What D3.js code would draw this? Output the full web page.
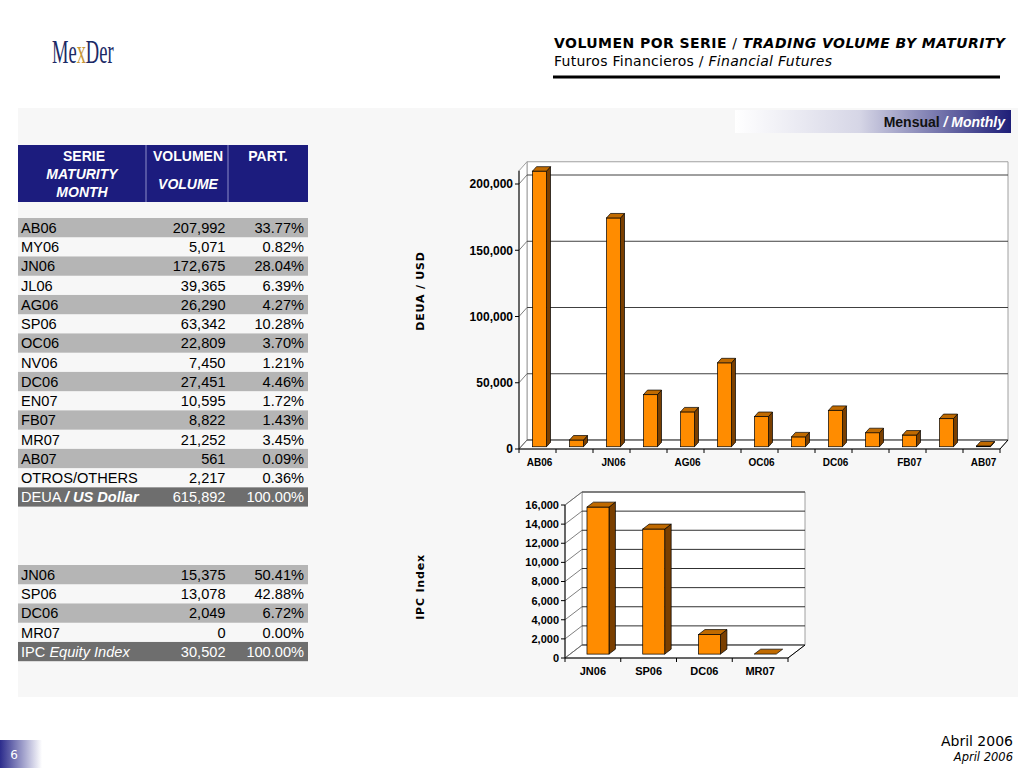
<!DOCTYPE html>
<html><head><meta charset="utf-8">
<script src="https://cdn.jsdelivr.net/npm/d3@7"></script>
<style>body{margin:0;background:#fff;} svg{display:block}</style>
</head><body><svg id="c" width="1024" height="768"></svg>
<script>
// ---------- DATA ----------
const dollarSeries = ["AB06","MY06","JN06","JL06","AG06","SP06","OC06","NV06","DC06","EN07","FB07","MR07","AB07"];
const dollarVolume = [207992,5071,172675,39365,26290,63342,22809,7450,27451,10595,8822,21252,561];
const dollarShare  = ["33.77%","0.82%","28.04%","6.39%","4.27%","10.28%","3.70%","1.21%","4.46%","1.72%","1.43%","3.45%","0.09%"];
const otherLabel = "OTROS/OTHERS", otherVolume = 2217, otherShare = "0.36%";
const dollarTotal = 615892, dollarTotalShare = "100.00%";
const ipcSeries = ["JN06","SP06","DC06","MR07"];
const ipcVolume = [15375,13078,2049,0];
const ipcShare  = ["50.41%","42.88%","6.72%","0.00%"];
const ipcTotal = 30502, ipcTotalShare = "100.00%";
const dollarTicks = [0,50000,100000,150000,200000];
const ipcTicks = [0,2000,4000,6000,8000,10000,12000,14000,16000];

// ---------- SETUP ----------
const svg = d3.select("#c");
const fmt = d3.format(",");
const SANS = "'Liberation Sans', Arial, sans-serif";
const VERD = "'DejaVu Sans', Verdana, sans-serif";
const defs = svg.append("defs");
const g1 = defs.append("linearGradient").attr("id","band").attr("x1","0").attr("x2","1");
g1.append("stop").attr("offset","0").attr("stop-color","#ffffff");
g1.append("stop").attr("offset","0.45").attr("stop-color","#d6d6e6");
g1.append("stop").attr("offset","1").attr("stop-color","#1e1e78");
const g2 = defs.append("linearGradient").attr("id","pg").attr("x1","0").attr("x2","1");
g2.append("stop").attr("offset","0").attr("stop-color","#2c2c8c");
g2.append("stop").attr("offset","1").attr("stop-color","#ffffff");

// panel
svg.append("rect").attr("x",18).attr("y",108).attr("width",1000).attr("height",589).attr("fill","#f7f7f7");

// logo
const logo = svg.append("text").attr("transform","translate(52,63) scale(0.56,1)").attr("font-family","'Liberation Serif', serif")
  .attr("font-size",33).attr("fill","#1b2a66");
logo.append("tspan").text("Me");
logo.append("tspan").attr("fill","#c8983a").text("x");
logo.append("tspan").text("Der");

// title
const t1 = svg.append("text").attr("x",554).attr("y",48).attr("font-family",VERD).attr("font-size",14).attr("font-weight","bold").attr("fill","#000")
  .attr("textLength",451).attr("lengthAdjust","spacing");
t1.append("tspan").text("VOLUMEN POR SERIE ");
t1.append("tspan").attr("font-weight","normal").text("/ ");
t1.append("tspan").attr("font-style","italic").text("TRADING VOLUME BY MATURITY");
const t2 = svg.append("text").attr("x",554).attr("y",66).attr("font-family",VERD).attr("font-size",14).attr("fill","#000")
  .attr("textLength",278).attr("lengthAdjust","spacing");
t2.append("tspan").text("Futuros Financieros / ");
t2.append("tspan").attr("font-style","italic").text("Financial Futures");
svg.append("rect").attr("x",553).attr("y",75.5).attr("width",447).attr("height",3).attr("fill","#000");

// monthly band
svg.append("rect").attr("x",735).attr("y",110).attr("width",276).attr("height",23).attr("fill","url(#band)");
const mb = svg.append("text").attr("x",1005).attr("y",127).attr("text-anchor","end").attr("font-family",SANS).attr("font-size",14).attr("font-weight","bold");
mb.append("tspan").attr("fill","#111").text("Mensual ");
mb.append("tspan").attr("fill","#fff").attr("font-style","italic").text("/ Monthly");

// ---------- TABLES ----------
const TX0 = 18, TX1 = 308, C1 = 146, C2 = 228, RH = 19.24;
svg.append("rect").attr("x",TX0).attr("y",145).attr("width",TX1-TX0).attr("height",57).attr("fill","#1c1c7e");
[C1,C2].forEach(x=>svg.append("line").attr("x1",x).attr("x2",x).attr("y1",145).attr("y2",202).attr("stroke","#8c8cc8").attr("stroke-width",1));
const hdr = [
  {t:"SERIE",x:84,y:161,i:false},{t:"MATURITY",x:82,y:179,i:true},{t:"MONTH",x:82,y:197,i:true},
  {t:"VOLUMEN",x:188,y:161,i:false},{t:"VOLUME",x:188,y:189,i:true},{t:"PART.",x:268,y:161,i:false}];
svg.selectAll("text.hdr").data(hdr).enter().append("text").attr("class","hdr")
  .attr("x",d=>d.x).attr("y",d=>d.y).attr("text-anchor","middle").attr("font-family",SANS)
  .attr("font-size",14).attr("font-weight","bold").attr("font-style",d=>d.i?"italic":"normal").attr("fill","#fff").text(d=>d.t);

function table(rows, top, totalParts, totalVol, totalShare){
  const g = svg.append("g");
  rows.forEach((r,i)=>{
    const y = top + i*RH;
    if(i%2===0) g.append("rect").attr("x",TX0).attr("y",y).attr("width",TX1-TX0).attr("height",RH).attr("fill","#b5b5b5");
    const by = y + RH/2 + 5.3;
    g.append("text").attr("x",21).attr("y",by).attr("font-family",SANS).attr("font-size",14.6).attr("fill","#000").text(r[0]);
    g.append("text").attr("x",225.5).attr("y",by).attr("text-anchor","end").attr("font-family",SANS).attr("font-size",14.6).attr("fill","#000").text(fmt(r[1]));
    g.append("text").attr("x",304).attr("y",by).attr("text-anchor","end").attr("font-family",SANS).attr("font-size",14.6).attr("fill","#000").text(r[2]);
  });
  const y = top + rows.length*RH;
  g.append("rect").attr("x",TX0).attr("y",y).attr("width",TX1-TX0).attr("height",RH).attr("fill","#6e6e6e");
  const by = y + RH/2 + 5.3;
  const lt = g.append("text").attr("x",21).attr("y",by).attr("font-family",SANS).attr("font-size",14.6).attr("fill","#fff");
  totalParts.forEach(p=>lt.append("tspan").attr("font-style",p.i?"italic":"normal").attr("font-weight",p.b?"bold":"normal").text(p.t));
  g.append("text").attr("x",225.5).attr("y",by).attr("text-anchor","end").attr("font-family",SANS).attr("font-size",14.6).attr("fill","#fff").text(fmt(totalVol));
  g.append("text").attr("x",304).attr("y",by).attr("text-anchor","end").attr("font-family",SANS).attr("font-size",14.6).attr("fill","#fff").text(totalShare);
}
const dRows = dollarSeries.map((s,i)=>[s,dollarVolume[i],dollarShare[i]]).concat([[otherLabel,otherVolume,otherShare]]);
table(dRows, 218, [{t:"DEUA ",b:false},{t:"/ US Dollar",i:true,b:true}], dollarTotal, dollarTotalShare);
const iRows = ipcSeries.map((s,i)=>[s,ipcVolume[i],ipcShare[i]]);
table(iRows, 565, [{t:"IPC "},{t:"Equity Index",i:true}], ipcTotal, ipcTotalShare);

// ---------- 3D BAR CHARTS ----------
function chart3d(c){
  const g = svg.append("g");
  const x = d3.scaleBand().domain(c.cats).range([c.x0,c.x1]);
  const y = d3.scaleLinear().domain([0,c.max]).range([c.yBase,c.yTop]);
  const dx=c.dx, dy=c.dy, yT=y(c.max);
  const pt = a=>a.map(p=>p.join(",")).join(" ");
  g.append("polygon").attr("points",pt([[c.x0+dx,yT+dy],[c.x1+dx,yT+dy],[c.x1+dx,c.yBase+dy],[c.x0+dx,c.yBase+dy]])).attr("fill","#fff").attr("stroke","#a0a0a0");
  g.append("polygon").attr("points",pt([[c.x0,c.yBase],[c.x0,yT],[c.x0+dx,yT+dy],[c.x0+dx,c.yBase+dy]])).attr("fill","#fff").attr("stroke","#a0a0a0");
  g.append("polygon").attr("points",pt([[c.x0,c.yBase],[c.x1,c.yBase],[c.x1+dx,c.yBase+dy],[c.x0+dx,c.yBase+dy]])).attr("fill","#fff").attr("stroke","#a0a0a0");
  c.ticks.forEach(t=>{
    g.append("line").attr("x1",c.x0+dx).attr("x2",c.x1+dx).attr("y1",y(t)+dy).attr("y2",y(t)+dy).attr("stroke",c.grid).attr("stroke-width",1);
    g.append("line").attr("x1",c.x0).attr("x2",c.x0+dx).attr("y1",y(t)).attr("y2",y(t)+dy).attr("stroke","#606060").attr("stroke-width",0.8);
    g.append("line").attr("x1",c.x0-4).attr("x2",c.x0).attr("y1",y(t)).attr("y2",y(t)).attr("stroke","#000").attr("stroke-width",1);
    g.append("text").attr("x",c.x0-6).attr("y",y(t)+c.tfs*0.36).attr("text-anchor","end").attr("font-family",SANS)
      .attr("font-weight","bold").attr("font-size",c.tfs).attr("fill","#000").text(fmt(t));
  });
  g.append("line").attr("x1",c.x0).attr("x2",c.x0).attr("y1",c.yBase).attr("y2",yT).attr("stroke","#000");
  g.append("line").attr("x1",c.x0).attr("x2",c.x1).attr("y1",c.yBase).attr("y2",c.yBase).attr("stroke","#000");
  g.append("line").attr("x1",c.x1).attr("x2",c.x1+dx).attr("y1",c.yBase).attr("y2",c.yBase+dy).attr("stroke","#000");
  const bounds = c.cats.map(k=>x(k)).concat([c.x1]);
  bounds.forEach(b=>g.append("line").attr("x1",b).attr("x2",b).attr("y1",c.yBase).attr("y2",c.yBase+4).attr("stroke","#000"));
  const bw = x.bandwidth();
  const ddx=(c.f1-c.f0)*dx, ddy=(c.f1-c.f0)*dy;
  c.cats.forEach((k,i)=>{
    const px = x(k)+bw/2-c.barW/2+c.f0*dx;
    const base = c.yBase + c.f0*dy;
    const top = y(c.vals[i]) + c.f0*dy;
    const W = c.barW;
    if(base-top>0.5){
      g.append("polygon").attr("points",pt([[px+W,top],[px+W+ddx,top+ddy],[px+W+ddx,base+ddy],[px+W,base]]))
        .attr("fill","#7a3f00").attr("stroke","#000").attr("stroke-width",0.7);
      g.append("rect").attr("x",px).attr("y",top).attr("width",W).attr("height",base-top)
        .attr("fill","#ff8c00").attr("stroke","#000").attr("stroke-width",0.7);
    }
    g.append("polygon").attr("points",pt([[px,top],[px+ddx,top+ddy],[px+W+ddx,top+ddy],[px+W,top]]))
      .attr("fill","#c06a00").attr("stroke","#000").attr("stroke-width",0.7);
  });
  c.cats.forEach((k,i)=>{
    if(i%c.every!==0) return;
    g.append("text").attr("x",x(k)+bw/2+c.lx).attr("y",c.labelY).attr("text-anchor","middle").attr("font-family",SANS)
      .attr("font-weight","bold").attr("font-size",c.lfs).attr("fill","#000").text(k);
  });
  g.append("text").attr("transform",`translate(${c.titleX},${c.titleY}) rotate(-90)`).attr("text-anchor","middle")
    .attr("font-family",VERD).attr("font-weight","bold").attr("font-size",11).attr("letter-spacing",0.8).attr("fill","#000").text(c.title);
}

chart3d({cats:dollarSeries, vals:dollarVolume, x0:519, x1:1000, yBase:449, max:210000, yTop:449-210000/50000*66.25,
  dx:8, dy:-9, barW:14, f0:0.25, f1:0.75, ticks:dollarTicks, grid:"#404040", tfs:12, lfs:10, labelY:466, lx:2, every:2,
  title:"DEUA / USD", titleX:424, titleY:291});
chart3d({cats:ipcSeries, vals:ipcVolume, x0:565, x1:788, yBase:658, max:16000, yTop:505,
  dx:17, dy:-13, barW:22, f0:0.3, f1:0.68, ticks:ipcTicks, grid:"#303030", tfs:11, lfs:11, labelY:675, lx:0, every:1,
  title:"IPC Index", titleX:424, titleY:587});

// ---------- FOOTER ----------
svg.append("rect").attr("x",0).attr("y",740).attr("width",42).attr("height",28).attr("fill","url(#pg)");
svg.append("text").attr("x",14).attr("y",759).attr("text-anchor","middle").attr("font-family",VERD).attr("font-size",12).attr("fill","#fff").text("6");
svg.append("text").attr("x",1013).attr("y",746).attr("text-anchor","end").attr("font-family",VERD).attr("font-size",14).attr("fill","#000").text("Abril 2006");
svg.append("text").attr("x",1013).attr("y",761).attr("text-anchor","end").attr("font-family",VERD).attr("font-size",11.5).attr("font-style","italic").attr("fill","#000").text("April 2006");
</script></body></html>
